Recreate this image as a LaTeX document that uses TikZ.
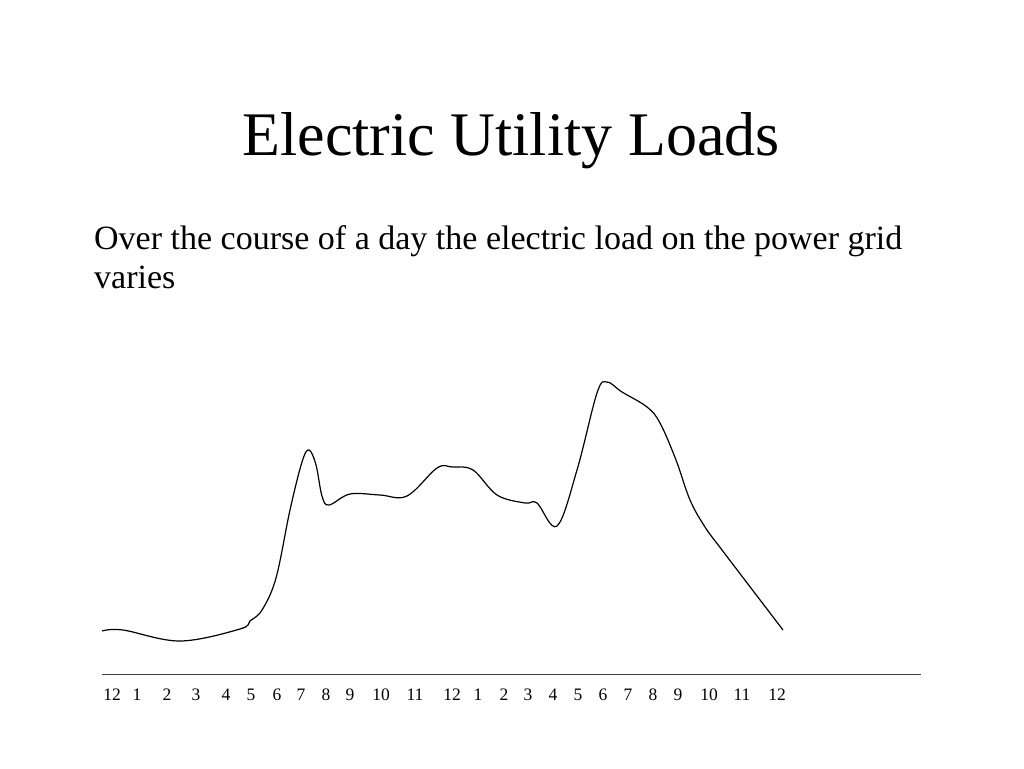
\documentclass[tikz,border=0pt]{standalone}
\usepackage{fontspec}
\setmainfont{Liberation Serif}
\begin{document}
\begin{tikzpicture}[x=1pt,y=-1pt,
  curve/.style={line width=1.2pt,black},
  axisline/.style={line width=1pt,black!75},
  tick/.style={anchor=base,inner sep=0pt,font=\fontsize{17.5}{20}\selectfont}]
\useasboundingbox[fill=white] (0,0) rectangle (1024,768);
\node[anchor=base,inner sep=0pt,font=\fontsize{62}{70}\selectfont] (title) at (511,155) {Electric Utility Loads};
\node[anchor=base west,inner sep=0pt,font=\fontsize{34}{40}\selectfont] (l1) at (94,249) {Over the course of a day the electric load on the power grid};
\node[anchor=base west,inner sep=0pt,font=\fontsize{34}{40}\selectfont] (l2) at (94,288) {varies};
\draw[curve] plot[smooth,tension=0.6] coordinates {
 (102,631) (123,630) (180,641) (240,629) (250,621) (262,610)
 (276,578) (290,510) (302,462) (309,450) (316,465) (322,496) (329,505)
 (350,494) (380,495) (407,496) (437,468) (452,467) (473,470)
 (497,495) (525,503) (537,503) (557,526) (577,470) (597,393) (607,382)
 (622,392) (647,407) (660,423) (676,460) (690,500) (705,527) (722,550) (783,630)};
\coordinate (ax1) at (102,674);
\coordinate (ax2) at (921,674);
\draw[axisline] (ax1) -- (ax2);
\foreach \x/\t [count=\i] in {112/12,137/1,167/2,196/3,226/4,251/5,277/6,301/7,326/8,350/9,381/10,415/11,452/12,478/1,504/2,528/3,553/4,578/5,603/6,628/7,653/8,678/9,709/10,742/11,777/12}
  \node[tick] (t\i) at (\x,700) {\t};
\end{tikzpicture}
\end{document}
